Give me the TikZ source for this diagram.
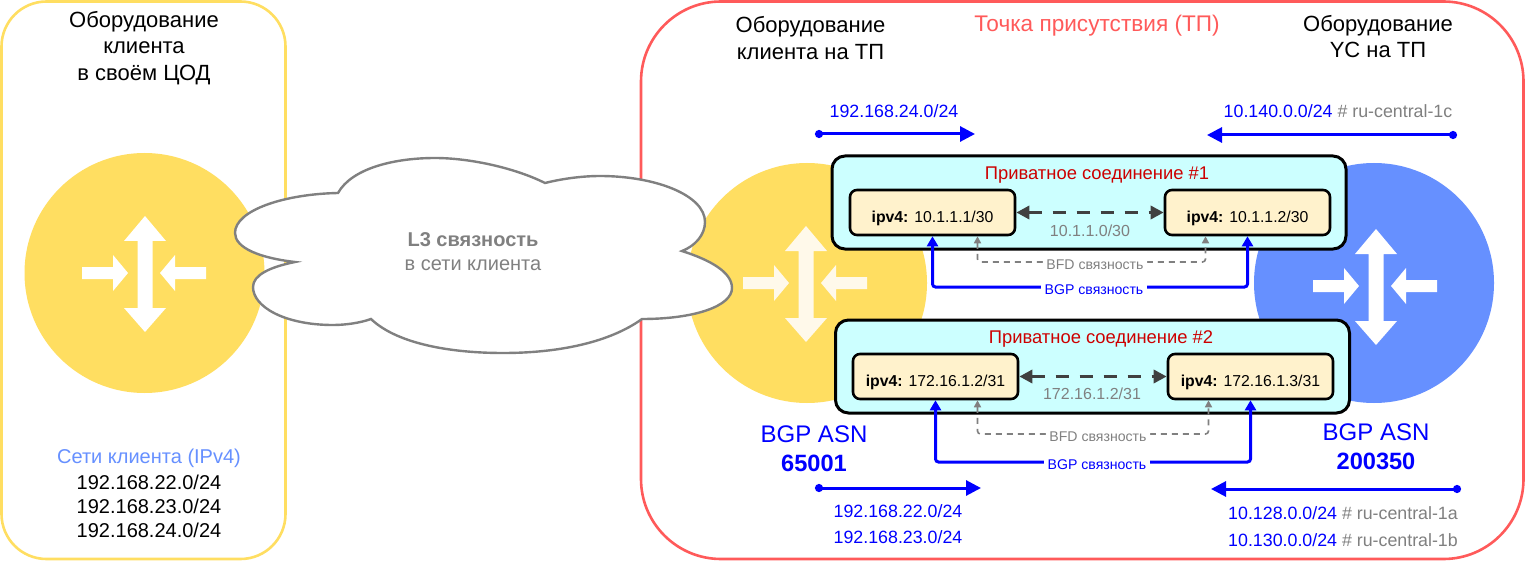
\documentclass[tikz,border=0pt]{standalone}
\usepackage{fontspec}
\setmainfont{Liberation Sans}
\usetikzlibrary{arrows.meta}
\definecolor{zoneyellow}{HTML}{FFDE61}
\definecolor{zonered}{HTML}{FF5A5A}
\definecolor{ycblue}{HTML}{6690FF}
\definecolor{linkfill}{HTML}{CCFFFF}
\definecolor{iffill}{HTML}{FFF2CC}
\definecolor{linkred}{HTML}{CC0000}
\definecolor{cloudgray}{HTML}{808080}
\definecolor{iconcream}{HTML}{FFF9EA}
\newcommand{\fsize}[1]{\fontsize{#1}{#1}\selectfont}
\newcommand{\ifaddr}[1]{\raisebox{-10pt}[0pt][0pt]{\textbf{ipv4:} #1}}
\newcommand{\ycnet}[2]{\textcolor{blue}{#1} \textcolor{cloudgray}{\# #2}}
\tikzset{
	zone/.style={line width=2.6pt, fill=white},
	router/.style={circle, minimum size=240pt, inner sep=0pt},
	linkbox/.style={draw=black, line width=3pt, fill=linkfill, rounded corners=13pt, minimum width=514pt, minimum height=93pt},
	ifbox/.style={draw=black, line width=2.6pt, fill=iffill, rounded corners=7pt, minimum width=165pt, minimum height=45pt, font=\fsize{15.8}, inner sep=0pt},
	title/.style={align=center, font=\fsize{22}, inner sep=0pt},
	netlabel/.style={font=\fsize{17.8}, inner sep=0pt, text=blue},
	clientnet/.style={font=\fsize{20}, inner sep=0pt},
	linktitle/.style={font=\fsize{18.4}, text=linkred, inner sep=0pt},
	subnet/.style={font=\fsize{16}, text=cloudgray, inner sep=0pt},
	asn/.style={align=center, text=blue, inner sep=0pt},
	pairline/.style={{Triangle[length=13pt, width=13pt]}-{Triangle[length=13pt, width=13pt]}, line width=3.6pt, draw=black!75, dash pattern=on 13pt off 11pt},
	bfdline/.style={{Triangle[length=7pt, width=7pt]}-{Triangle[length=7pt, width=7pt]}, line width=1.6pt, draw=cloudgray, dash pattern=on 6pt off 5pt, rounded corners=3pt},
	bgpline/.style={{Triangle[length=10pt, width=11pt]}-{Triangle[length=10pt, width=11pt]}, line width=3pt, draw=blue, rounded corners=3pt},
	linktag/.style={fill=white, font=\fsize{14.1}, inner sep=3.5pt, yshift=-3pt},
	announce/.style={{Circle[length=8pt]}-{Triangle[length=15pt, width=15pt]}, line width=3pt, draw=blue},
	% стрелки внутри круга маршрутизатора
	routericon/.pic={
		\fill (0,-57) -- (21,-32) -- (7.5,-32) -- (7.5,35) -- (21,35) -- (0,59) -- (-21,35) -- (-7.5,35) -- (-7.5,-32) -- (-21,-32) -- cycle;
		\fill (-63,-6) -- (-32,-6) -- (-32,-18) -- (-17,0) -- (-32,18) -- (-32,6) -- (-63,6) -- cycle;
		\fill (61,-6) -- (30,-6) -- (30,-18) -- (15,0) -- (30,18) -- (30,6) -- (61,6) -- cycle;
	},
}
\begin{document}
\begin{tikzpicture}[x=1pt, y=-1pt]
	\useasboundingbox (0,0) rectangle (1526,580);
	% площадки
	\draw[zone, draw=zoneyellow, rounded corners=45pt] (1.5,1.5) rectangle (285.5,559);
	\draw[zone, draw=zonered, rounded corners=80pt] (641,1.5) rectangle (1523.5,559);

	% маршрутизаторы
	\node[router, fill=zoneyellow] (rclient) at (144.5,273) {};
	\node[router, fill=zoneyellow] (rpop) at (807,283) {};
	\node[router, fill=ycblue] (ryc) at (1374,283) {};
	\pic[white] at (145,273) {routericon};
	\pic[iconcream] at (806,283) {routericon};
	\pic[white] at (1376,286) {routericon};

	% облако
	\draw[line width=2.4pt, draw=cloudgray, fill=white] (338,193)
		.. controls (352,168) and (395,158) .. (435,158)
		.. controls (470,158) and (515,168) .. (545,183)
		.. controls (565,178) and (585,176) .. (600,176)
		.. controls (655,176) and (705,195) .. (705,222)
		.. controls (705,235) and (695,246) .. (682,251)
		.. controls (710,260) and (732,272) .. (732,288)
		.. controls (732,306) and (695,319) .. (642,319)
		.. controls (610,342) and (560,353) .. (503,353)
		.. controls (445,353) and (395,342) .. (371,319)
		.. controls (360,323) and (345,325) .. (333,325)
		.. controls (285,325) and (253,307) .. (253,287)
		.. controls (253,275) and (270,267) .. (295,262)
		.. controls (260,258) and (235,248) .. (235,233)
		.. controls (235,210) and (285,194) .. (338,193) -- cycle;
	\node[align=center, text=cloudgray, font=\fsize{20}, inner sep=0pt] (cloudtext) at (473,252) {\textbf{L3 связность}\\[4pt]в сети клиента};

	% подписи площадок
	\node[title] (tclient) at (144,48) {Оборудование\\[4.5pt]клиента\\[4.5pt]в своём ЦОД};
	\node[title] (tpopclient) at (810.5,38) {Оборудование\\[4.5pt]клиента на ТП};
	\node[title, text=zonered, font=\fsize{22.6}] (tpop) at (1097,26) {Точка присутствия (ТП)};
	\node[title] (tyc) at (1378,36.5) {Оборудование\\[4.5pt]YC на ТП};

	% сети клиента
	\node[clientnet, text=ycblue] (nethead) at (149,458) {Сети клиента (IPv4)};
	\node[clientnet] (net22) at (149,482) {192.168.22.0/24};
	\node[clientnet] (net23) at (149,506) {192.168.23.0/24};
	\node[clientnet] (net24) at (149,530) {192.168.24.0/24};

	% приватные соединения
	\node[linkbox] (link1) at (1089,202.5) {};
	\node[linkbox] (link2) at (1092.5,366.5) {};
	\node[linktitle] (ltitle1) at (1097,175) {Приватное соединение \#1};
	\node[linktitle] (ltitle2) at (1101,339) {Приватное соединение \#2};
	\node[ifbox] (ifa1) at (932.5,212.5) {\ifaddr{10.1.1.1/30}};
	\node[ifbox] (ifb1) at (1247.5,212.5) {\ifaddr{10.1.1.2/30}};
	\node[ifbox] (ifa2) at (935.5,376.5) {\ifaddr{172.16.1.2/31}};
	\node[ifbox] (ifb2) at (1250.5,376.5) {\ifaddr{172.16.1.3/31}};
	\draw[pairline] (ifa1) -- (ifb1);
	\draw[pairline] (ifa2) -- (ifb2);
	\node[subnet] (sub1) at (1090,231) {10.1.1.0/30};
	\node[subnet] (sub2) at (1092,394) {172.16.1.2/31};

	% связности под соединениями
	\draw[bfdline] ([xshift=45pt]ifa1.south) |- (1095,262) node[linktag, text=cloudgray] {BFD связность} -| ([xshift=-42pt]ifb1.south);
	\draw[bgpline] (ifa1.south) |- (1094,287) node[linktag, text=blue] {BGP связность} -| (ifb1.south);
	\draw[bfdline] ([xshift=42pt]ifa2.south) |- (1098,434) node[linktag, text=cloudgray] {BFD связность} -| ([xshift=-42pt]ifb2.south);
	\draw[bgpline] (ifa2.south) |- (1097,462) node[linktag, text=blue] {BGP связность} -| (ifb2.south);

	% BGP ASN
	\node[asn, font=\fsize{24}] (asn1) at (814,434) {BGP ASN};
	\node[asn, font=\bfseries\fsize{23.6}] (asnnum1) at (814,463) {65001};
	\node[asn, font=\fsize{24}] (asn2) at (1376,432) {BGP ASN};
	\node[asn, font=\bfseries\fsize{23.6}] (asnnum2) at (1376,461) {200350};

	% анонсы сетей
	\coordinate (adv1a) at (815,134);
	\coordinate (adv1b) at (975,134);
	\coordinate (adv2a) at (1457,135);
	\coordinate (adv2b) at (1207,135);
	\coordinate (adv3a) at (815,488);
	\coordinate (adv3b) at (981,488);
	\coordinate (adv4a) at (1461,489);
	\coordinate (adv4b) at (1211,489);
	\draw[announce] (adv1a) -- (adv1b);
	\draw[announce] (adv2a) -- (adv2b);
	\draw[announce] (adv3a) -- (adv3b);
	\draw[announce] (adv4a) -- (adv4b);
	\node[netlabel] (netpop) at (894,111) {192.168.24.0/24};
	\node[netlabel] (netc) at (1338,111) {\ycnet{10.140.0.0/24}{ru-central-1c}};
	\node[netlabel] (netpop22) at (898,511) {192.168.22.0/24};
	\node[netlabel] (netpop23) at (898,537) {192.168.23.0/24};
	\node[netlabel] (neta) at (1343,513) {\ycnet{10.128.0.0/24}{ru-central-1a}};
	\node[netlabel] (netb) at (1343,540) {\ycnet{10.130.0.0/24}{ru-central-1b}};
\end{tikzpicture}
\end{document}
